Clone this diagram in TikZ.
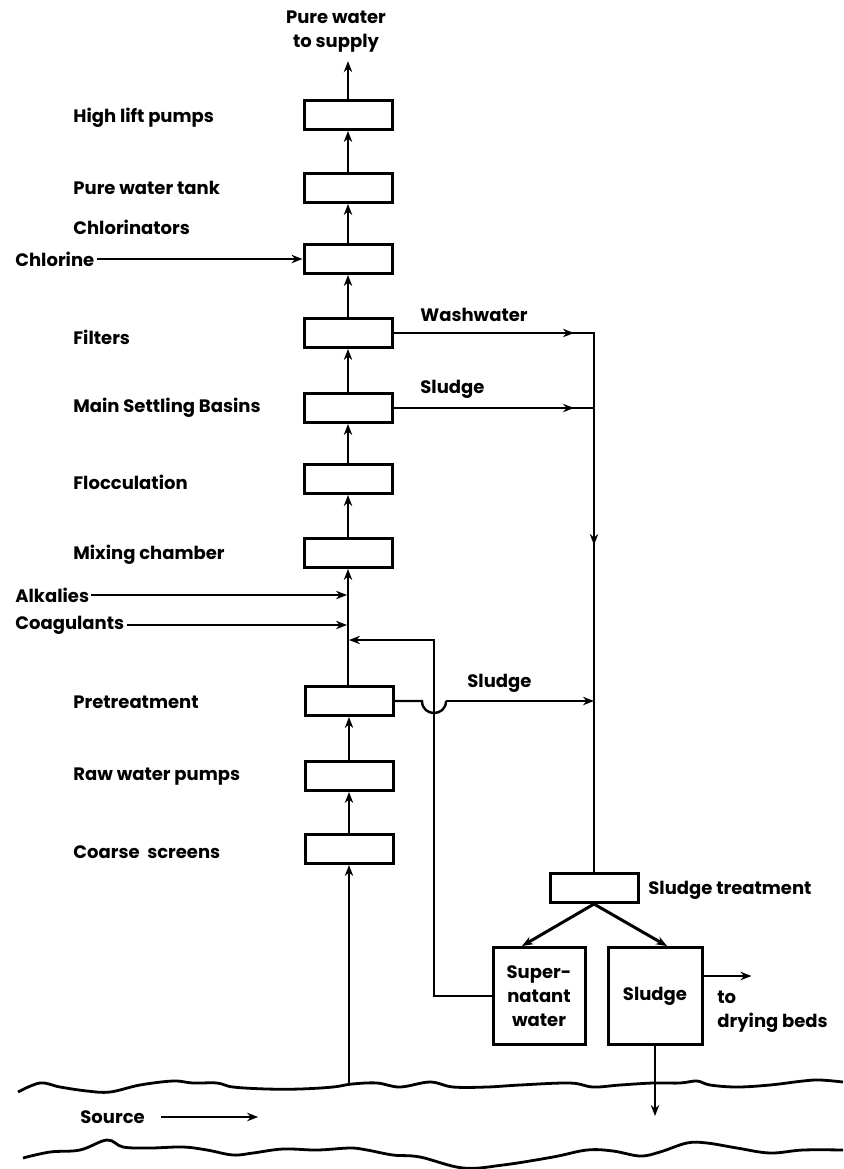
\documentclass[tikz,border=0pt]{standalone}
\usepackage{fontspec}
\setmainfont{Poppins}
\usetikzlibrary{arrows.meta,calc}
\tikzset{
  unit/.style={draw, line width=1.5pt, minimum width=44pt, minimum height=14.5pt, inner sep=0pt},
  tank/.style={draw, line width=1.5pt, minimum width=46pt, minimum height=48.5pt, inner sep=0pt, align=center},
  lbl/.style={anchor=west, inner sep=0pt},
  pipe/.style={line width=1.2pt},
  flow/.style={pipe, -{Stealth[length=5.5pt,width=4.2pt]}},
  wave/.style={line width=1.4pt, smooth, tension=0.6},
}
\begin{document}
\begin{tikzpicture}[x=0.5pt, y=-0.5pt, font=\bfseries\fontsize{9}{12}\selectfont]
\useasboundingbox (0,0) rectangle (843,1169);
% main treatment line
\node[unit] (hlp) at (348,115) {};
\node[unit] (pwt) at (348,188) {};
\node[unit] (chl) at (348,259) {};
\node[unit] (fil) at (348,333) {};
\node[unit] (msb) at (348,408) {};
\node[unit] (flo) at (348,479) {};
\node[unit] (mix) at (348,553) {};
\node[unit] (pre) at (349,701) {};
\node[unit] (rwp) at (349,776) {};
\node[unit] (cs)  at (349,849) {};
% sludge side
\node[unit] (st)  at (594,888) {};
\node[tank] (sup) at (539,996) {Super-\\natant\\water};
\node[tank, minimum width=47pt] (sl) at (655,996) {Sludge};

% labels
\node[align=center, inner sep=0pt] (supply) at (336,32) {Pure water\\to supply};
\node[lbl] (l-hlp) at (73,118) {High lift pumps};
\node[lbl] (l-pwt) at (73,188) {Pure water tank};
\node[lbl] (l-chl) at (73,227) {Chlorinators};
\node[lbl] (chlorine) at (15,259) {Chlorine};
\node[lbl] (l-fil) at (73,337) {Filters};
\node[lbl] (l-msb) at (73,408) {Main Settling Basins};
\node[lbl] (l-flo) at (73,482) {Flocculation};
\node[lbl] (l-mix) at (73,555) {Mixing chamber};
\node[lbl] (alkalies) at (15,595) {Alkalies};
\node[lbl] (coagulants) at (15,625) {Coagulants};
\node[lbl] (l-pre) at (73,702) {Pretreatment};
\node[lbl] (l-rwp) at (73,777) {Raw water pumps};
\node[lbl] (l-cs) at (73,852) {Coarse\ \ screens};
\node[lbl] (l-st) at (648,890) {Sludge treatment};
\node[lbl] (l-wash) at (420,315) {Washwater};
\node[lbl] (l-sl1) at (420,389) {Sludge};
\node[lbl] (l-sl2) at (467,683) {Sludge};
\node[lbl, align=left] (l-dry) at (717,1012) {to\\drying beds};
\node[lbl] (source) at (80,1117) {Source};

% junction points
\coordinate (intake) at (349,1085);
\coordinate (wc) at (594,333);
\coordinate (sj1) at (594,408);
\coordinate (sj2) at (594,701);
\coordinate (dn) at (594,545);
\coordinate (alk) at (347,595);
\coordinate (coag) at (347,625);
\coordinate (rc) at (434,640);
\coordinate (rin) at (349,640);
\coordinate (hopA) at (422,701);
\coordinate (hopB) at (446,701);

% flow up the plant
\draw[flow, shorten >=4pt] (hlp.north) -- (hlp.north |- supply.south);
\draw[flow] (pwt) -- (hlp);
\draw[flow] (chl) -- (pwt);
\draw[flow] (fil) -- (chl);
\draw[flow] (msb) -- (fil);
\draw[flow] (flo) -- (msb);
\draw[flow] (mix) -- (flo);
\draw[flow] (pre.north -| mix.south) -- (mix.south);
\draw[flow] (rwp) -- (pre);
\draw[flow] (cs) -- (rwp);
\draw[flow] (intake) -- (intake |- cs.south);

% chemicals
\draw[flow, shorten <=1pt] (chlorine.east) -- (chl.west);
\draw[flow, shorten <=1pt] (alkalies.east) -- (alk);
\draw[flow, shorten <=1pt] (coagulants.east) -- (coag);

% wash water and sludge
\draw[pipe] (fil.east) -- (wc) -- (st.north);
\draw[flow] (fil.east) -- ($(wc)+(-20,0)$);
\draw[flow] (wc) -- (dn);
\draw[pipe] (msb.east) -- (sj1);
\draw[flow] (msb.east) -- ($(sj1)+(-20,0)$);
\draw[pipe] (pre.east) -- (hopA) .. controls (422,717) and (446,717) .. (hopB);
\draw[flow] (hopB) -- (sj2);
\draw[flow] (sup.west) -| (rc) -- (rin);

% sludge treatment
\draw[flow, line width=1.5pt] (st.south) -- ($(sup.north)+(-17,0)$);
\draw[flow, line width=1.5pt] (st.south) -- ($(sl.north)+(12,0)$);
\draw[flow] ($(sl.east)+(0,-20)$) -- ($(sl.east)+(48,-20)$);
\draw[flow] (sl.south) -- ($(sl.south)+(0,70)$);

% source
\draw[flow] ($(source.east)+(16,0)$) -- ($(source.east)+(113,0)$);
\draw[wave] plot coordinates {(18,1092) (40,1083) (60,1087) (87,1091) (110,1092) (140,1085) (173,1081) (193,1083) (217,1083) (233,1087) (267,1089) (300,1089) (333,1087) (352,1084) (377,1083) (400,1087) (430,1082) (453,1087) (487,1087) (520,1085) (570,1083) (593,1087) (620,1085) (653,1083) (680,1083) (697,1081) (710,1085) (737,1087) (770,1085) (803,1081) (820,1080) (843,1082)};
\draw[wave] plot coordinates {(23,1158) (50,1152) (80,1150) (107,1140) (123,1147) (150,1148) (183,1147) (207,1150) (233,1155) (253,1153) (283,1149) (317,1150) (350,1148) (367,1150) (393,1155) (420,1157) (463,1168) (503,1165) (553,1157) (587,1150) (613,1151) (640,1156) (660,1152) (687,1143) (707,1143) (737,1148) (770,1153) (803,1150) (843,1150)};
\end{tikzpicture}
\end{document}
